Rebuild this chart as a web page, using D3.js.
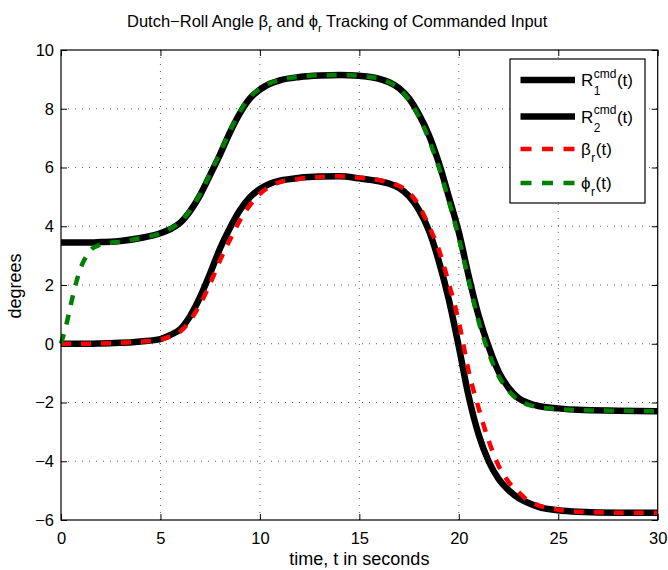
<!DOCTYPE html>
<html><head><meta charset="utf-8">
<script src="https://cdn.jsdelivr.net/npm/d3@7"></script>
<style>
html,body{margin:0;padding:0;background:#fff;}
text{font-family:"Liberation Sans",Arial,Helvetica,"DejaVu Sans",sans-serif;fill:#000;}
</style></head>
<body>
<svg id="chart" width="668" height="570"></svg>
<script>
const time = [0,0.25,0.5,0.75,1,1.25,1.5,2,2.5,3,4,5,5.5,6,6.5,7,7.5,8,8.5,9,9.5,10,10.5,11,12,13,14,15,16,16.5,17,17.5,18,18.5,19,19.5,20,20.5,21,21.5,22,22.5,23,23.5,24,25,26,28,30];
const r1cmd = [3.45,3.45,3.45,3.45,3.45,3.45,3.45,3.46,3.47,3.5,3.6,3.76,3.9,4.12,4.52,5.07,5.75,6.45,7.2,7.85,8.35,8.65,8.85,8.97,9.08,9.13,9.15,9.12,9.02,8.9,8.7,8.35,7.8,7.1,6.15,5.0,3.8,2.3,0.95,-0.1,-0.95,-1.5,-1.85,-2.02,-2.12,-2.2,-2.25,-2.28,-2.3];
const r2cmd = [0,0,0,0,0,0,0,0.01,0.02,0.03,0.08,0.16,0.3,0.5,0.95,1.6,2.4,3.25,3.95,4.55,4.99,5.27,5.45,5.55,5.65,5.69,5.7,5.63,5.53,5.45,5.3,5.02,4.55,3.85,2.8,1.5,-0.1,-1.8,-3.1,-4.0,-4.6,-4.98,-5.25,-5.42,-5.55,-5.67,-5.72,-5.75,-5.75];
const betaR = [0,0,0,0,0,0,0,0.01,0.02,0.03,0.07,0.14,0.25,0.42,0.8,1.35,2.05,2.85,3.55,4.2,4.72,5.1,5.35,5.5,5.62,5.68,5.7,5.65,5.57,5.5,5.37,5.15,4.7,4.0,3.2,2.05,0.75,-0.95,-2.2,-3.3,-4.15,-4.7,-5.05,-5.35,-5.5,-5.65,-5.72,-5.75,-5.75];
const phiR = [0,0.6,1.35,2.05,2.6,2.95,3.2,3.38,3.44,3.48,3.6,3.76,3.92,4.15,4.55,5.1,5.8,6.5,7.25,7.9,8.4,8.68,8.87,8.98,9.09,9.14,9.15,9.12,9.02,8.9,8.68,8.3,7.72,6.95,6.0,4.85,3.6,2.15,0.75,-0.3,-1.1,-1.6,-1.92,-2.08,-2.16,-2.22,-2.26,-2.28,-2.3];
const xTicks = [0,5,10,15,20,25,30];
const yTicks = [-6,-4,-2,0,2,4,6,8,10];

const svg = d3.select("#chart");
const L = 61, R = 657.7, T = 50, B = 520;
const x = d3.scaleLinear().domain([0,30]).range([L,R]);
const y = d3.scaleLinear().domain([-6,10]).range([B,T]);
const fmt = d => d < 0 ? "\u2212" + Math.abs(d) : String(d);

// grid
const grid = svg.append("g").attr("stroke","#000").attr("stroke-width",0.8).attr("stroke-dasharray","1,6").attr("opacity",0.75);
xTicks.slice(1,-1).forEach(t => grid.append("line").attr("x1",x(t)).attr("x2",x(t)).attr("y1",B).attr("y2",T));
yTicks.slice(1,-1).forEach(t => grid.append("line").attr("y1",y(t)).attr("y2",y(t)).attr("x1",L).attr("x2",R));

// axes (inward ticks on all sides)
const tickLen = 6;
svg.append("g").attr("transform",`translate(0,${B})`)
  .call(d3.axisBottom(x).tickValues(xTicks).tickSize(-tickLen).tickPadding(12).tickFormat(fmt))
  .call(g=>{g.select(".domain").remove(); g.selectAll("text").attr("font-size",16.5).attr("font-family","Liberation Sans, Arial, sans-serif");});
svg.append("g").attr("transform",`translate(0,${T})`)
  .call(d3.axisTop(x).tickValues(xTicks).tickSize(-tickLen).tickFormat(""))
  .call(g=>g.select(".domain").remove());
svg.append("g").attr("transform",`translate(${L},0)`)
  .call(d3.axisLeft(y).tickValues(yTicks).tickSize(-tickLen).tickPadding(7).tickFormat(fmt))
  .call(g=>{g.select(".domain").remove(); g.selectAll("text").attr("font-size",16.5).attr("font-family","Liberation Sans, Arial, sans-serif");});
svg.append("g").attr("transform",`translate(${R},0)`)
  .call(d3.axisRight(y).tickValues(yTicks).tickSize(-tickLen).tickFormat(""))
  .call(g=>g.select(".domain").remove());

// lines
const line = vals => d3.line().x((d,i)=>x(time[i])).y(d=>y(d)).curve(d3.curveMonotoneX)(vals);
const series = [
  {vals:r1cmd, color:"#000", w:6.5, dash:null},
  {vals:r2cmd, color:"#000", w:6.5, dash:null},
  {vals:betaR, color:"#ff0000", w:4.5, dash:"10,10"},
  {vals:phiR, color:"#008000", w:4.5, dash:"10,10"}
];
series.forEach(s=>{
  svg.append("path").attr("d",line(s.vals)).attr("fill","none")
    .attr("stroke",s.color).attr("stroke-width",s.w)
    .attr("stroke-dasharray",s.dash);
});

// frame
svg.append("rect").attr("x",L).attr("y",T).attr("width",R-L).attr("height",B-T)
  .attr("fill","none").attr("stroke","#000").attr("stroke-width",1.2);

// title
const title = svg.append("text").attr("x",127).attr("y",27).attr("text-anchor","start").attr("font-size",16.5);
title.append("tspan").text("Dutch\u2212Roll Angle \u03b2");
title.append("tspan").text("r").attr("font-size",11.5).attr("dy",5);
title.append("tspan").text(" and \u03d5").attr("dy",-5);
title.append("tspan").text("r").attr("font-size",11.5).attr("dy",5);
title.append("tspan").text(" Tracking of Commanded Input").attr("dy",-5);

// axis labels
svg.append("text").attr("x",(L+R)/2).attr("y",565).attr("text-anchor","middle").attr("font-size",18).text("time, t in seconds");
svg.append("text").attr("transform","translate(21,286) rotate(-90)").attr("text-anchor","middle").attr("font-size",18).text("degrees");

// legend
const lg = svg.append("g");
lg.append("rect").attr("x",510).attr("y",59).attr("width",135).attr("height",144)
  .attr("fill","#fff").attr("stroke","#000").attr("stroke-width",1.2);
const legendItems = [
  {base:"R", sup:"cmd", sub:"1", color:"#000", w:6.5, dash:null, y:80},
  {base:"R", sup:"cmd", sub:"2", color:"#000", w:6.5, dash:null, y:116.5},
  {base:"\u03b2", sup:null, sub:"r", color:"#ff0000", w:4.5, dash:"11,10.5", y:149},
  {base:"\u03d5", sup:null, sub:"r", color:"#008000", w:4.5, dash:"11,10.5", y:183}
];
legendItems.forEach(it=>{
  lg.append("line").attr("x1",520.5).attr("x2",575).attr("y1",it.y).attr("y2",it.y)
    .attr("stroke",it.color).attr("stroke-width",it.w).attr("stroke-dasharray",it.dash);
  const tx = 581, bl = it.y + 6;
  const b = lg.append("text").attr("x",tx).attr("y",bl).attr("font-size",17).text(it.base);
  const bw = b.node().getComputedTextLength();
  let mw = 0;
  if (it.sup) {
    const s = lg.append("text").attr("x",tx+bw+0.5).attr("y",bl-8.5).attr("font-size",12).text(it.sup);
    mw = Math.max(mw, s.node().getComputedTextLength());
  }
  const sb = lg.append("text").attr("x",tx+bw+0.5).attr("y",bl+(it.sup?9:6.5)).attr("font-size",12).text(it.sub);
  mw = Math.max(mw, sb.node().getComputedTextLength());
  lg.append("text").attr("x",tx+bw+mw+1).attr("y",bl).attr("font-size",17).text("(t)");
});
</script>
</body></html>
